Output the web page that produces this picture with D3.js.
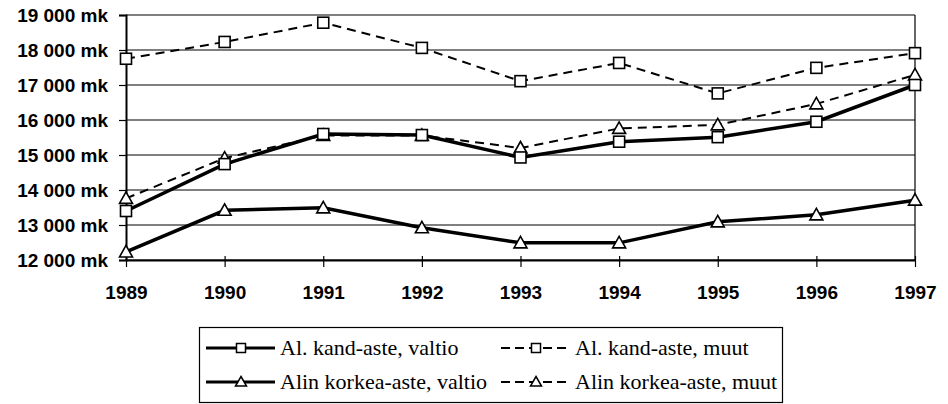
<!DOCTYPE html>
<html><head><meta charset="utf-8">
<script src="https://cdn.jsdelivr.net/npm/d3@7"></script>
<style>body{margin:0;background:#fff}svg{display:block}</style>
</head><body>
<svg id="c" width="948" height="404"></svg>
<script>
const years = [1989,1990,1991,1992,1993,1994,1995,1996,1997];
const kandValtio  = [13400,14740,15600,15570,14930,15380,15510,15950,17000];
const kandMuut    = [17750,18230,18780,18060,17110,17630,16760,17490,17910];
const korkValtio  = [12230,13420,13490,12920,12490,12490,13090,13290,13710];
const korkMuut    = [13760,14910,15560,15560,15200,15760,15860,16460,17290];
const yTicks = [12000,13000,14000,15000,16000,17000,18000,19000];
const seriesNames = ["Al. kand-aste, valtio","Al. kand-aste, muut","Alin korkea-aste, valtio","Alin korkea-aste, muut"];

const series = [
  {name:seriesNames[0], values:kandValtio, dashed:false, marker:"square"},
  {name:seriesNames[1], values:kandMuut, dashed:true, marker:"square"},
  {name:seriesNames[2], values:korkValtio, dashed:false, marker:"triangle"},
  {name:seriesNames[3], values:korkMuut, dashed:true, marker:"triangle"}
];

const SANS = "'Liberation Sans', Arial, sans-serif";
const SERIF = "'Liberation Serif', 'Times New Roman', 'DejaVu Serif', serif";

const svg = d3.select("#c");
const L=126, R=915, T=15, B=260;
const x = d3.scalePoint().domain(years).range([L,R]);
const y = d3.scaleLinear().domain([12000,19000]).range([B,T]);
const fmt = v => d3.format(",")(v).replace(",", " ") + " mk";

svg.append("g").selectAll("line").data(yTicks).join("line")
  .attr("x1",L).attr("x2",R).attr("y1",d=>y(d)).attr("y2",d=>y(d))
  .attr("stroke","#000").attr("stroke-width",1.2);
svg.append("line").attr("x1",R).attr("x2",R).attr("y1",T).attr("y2",B).attr("stroke","#000").attr("stroke-width",1.2);

const ya = svg.append("g").attr("transform",`translate(${L},0)`)
  .call(d3.axisLeft(y).tickValues(yTicks).tickFormat(fmt).tickSize(7).tickPadding(11));
ya.attr("font-family",SANS);
ya.select(".domain").attr("stroke-width",2);
ya.selectAll("line").attr("stroke-width",1.2);
ya.selectAll("text").attr("font-size",19).attr("font-weight","bold").attr("fill","#000");

const xa = svg.append("g").attr("transform",`translate(0,${B})`)
  .call(d3.axisBottom(x).tickSize(7).tickPadding(19).tickSizeOuter(0));
xa.attr("font-family",SANS);
xa.select(".domain").attr("stroke-width",2);
xa.selectAll(".tick line").attr("y1",-4).attr("stroke-width",1.2);
xa.selectAll("text").attr("font-size",19).attr("font-weight","bold").attr("fill","#000");

function drawMarker(g, type, cx, cy){
  if(type==="square"){
    g.append("rect").attr("x",cx-5.5).attr("y",cy-5.5).attr("width",11).attr("height",11)
      .attr("fill","#fff").attr("stroke","#000").attr("stroke-width",1.6);
  } else {
    g.append("path").attr("d",`M${cx},${cy-6.5}L${cx+6.5},${cy+5}L${cx-6.5},${cy+5}Z`)
      .attr("fill","#fff").attr("stroke","#000").attr("stroke-width",1.6);
  }
}

const line = d3.line().x((d,i)=>x(years[i])).y(d=>y(d));
const plot = svg.append("g");
[series[1],series[3],series[0],series[2]].forEach(s=>{
  plot.append("path").attr("d",line(s.values)).attr("fill","none").attr("stroke","#000")
    .attr("stroke-width",s.dashed?2:3.5).attr("stroke-dasharray",s.dashed?"9,6":null);
});
[series[1],series[3],series[0],series[2]].forEach(s=>{
  s.values.forEach((v,i)=>drawMarker(plot,s.marker,x(years[i]),y(v)));
});

// legend
const lg = svg.append("g");
lg.append("rect").attr("x",199.5).attr("y",327.5).attr("width",583).attr("height",75)
  .attr("fill","#fff").attr("stroke","#000").attr("stroke-width",1.2);
const pos = [[206,348],[501,348],[206,382],[501,382]];
series.forEach((s,i)=>{
  const [lx,ly]=pos[i];
  lg.append("line").attr("x1",lx).attr("x2",lx+69).attr("y1",ly).attr("y2",ly)
    .attr("stroke","#000").attr("stroke-width",s.dashed?2:3.2).attr("stroke-dasharray",s.dashed?"9,5":null);
  const mx = lx+35;
  if(s.marker==="square"){
    lg.append("rect").attr("x",mx-4.5).attr("y",ly-4.5).attr("width",9).attr("height",9)
      .attr("fill","#fff").attr("stroke","#000").attr("stroke-width",1.5);
  } else {
    lg.append("path").attr("d",`M${mx},${ly-5.5}L${mx+5.5},${ly+4}L${mx-5.5},${ly+4}Z`)
      .attr("fill","#fff").attr("stroke","#000").attr("stroke-width",1.5);
  }
  lg.append("text").attr("x",lx+74).attr("y",ly).attr("dy","0.33em")
    .attr("font-family",SERIF).attr("font-size",22).attr("fill","#000")
    .text(s.name);
});
</script>
</body></html>
